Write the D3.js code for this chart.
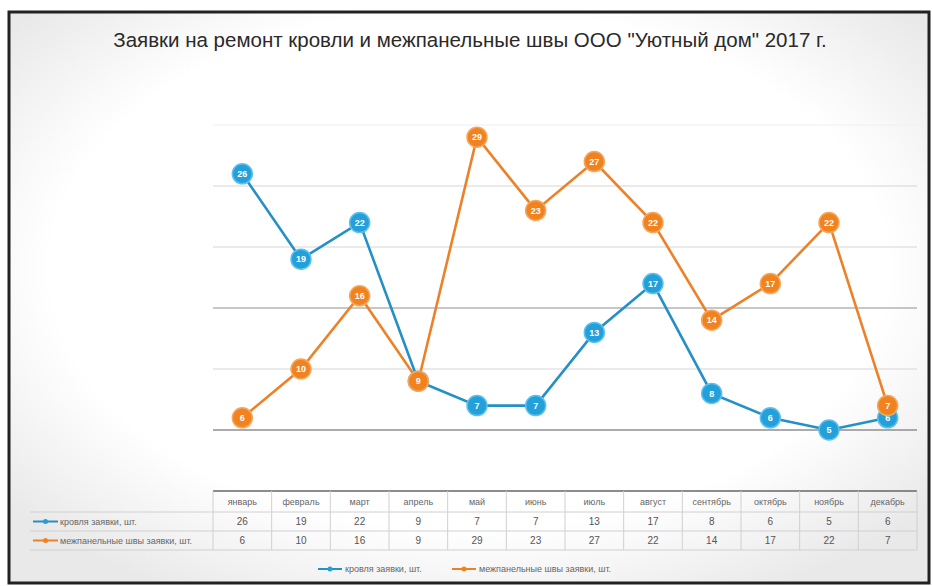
<!DOCTYPE html>
<html>
<head>
<meta charset="utf-8">
<script src="https://cdn.jsdelivr.net/npm/d3@7"></script>
<style>
  body { margin: 0; background: #fff; }
  text { font-family: "Liberation Sans", Arial, sans-serif; }
</style>
</head>
<body>
<script>
// data
var months = ["январь", "февраль", "март", "апрель", "май", "июнь", "июль", "август", "сентябрь", "октябрь", "ноябрь", "декабрь"];
var roofValues = [26, 19, 22, 9, 7, 7, 13, 17, 8, 6, 5, 6];
var seamValues = [6, 10, 16, 9, 29, 23, 27, 22, 14, 17, 22, 7];
var seriesNames = ["кровля заявки, шт.", "межпанельные швы заявки, шт."];
var yTicks = [5, 10, 15, 20, 25, 30];
var title = 'Заявки на ремонт кровли и межпанельные швы ООО "Уютный дом" 2017 г.';

var colors = ["#239fd9", "#f0821f"];
var lineColors = ["#2590c6", "#ec8128"];

var svg = d3.select('body').append('svg')
  .attr('width', 933)
  .attr('height', 586);

// soft vignette like the scan
var defs = svg.append('defs');
var grad = defs.append('radialGradient').attr('id', 'bg')
  .attr('cx', '50%').attr('cy', '45%').attr('r', '65%');
grad.append('stop').attr('offset', '70%').attr('stop-color', '#ffffff');
grad.append('stop').attr('offset', '100%').attr('stop-color', '#e9e9e9');

svg.append('rect')
  .attr('x', 9).attr('y', 12)
  .attr('width', 920).attr('height', 571)
  .attr('fill', 'url(#bg)')
  .attr('stroke', '#222')
  .attr('stroke-width', 3);

svg.append('text')
  .attr('x', 470).attr('y', 47)
  .attr('text-anchor', 'middle')
  .attr('font-size', 20.5)
  .attr('fill', '#2a2a2a')
  .text(title);

var x = d3.scaleBand().domain(months).range([213, 917]);
var y = d3.scaleLinear().domain([5, 30]).range([430, 125]);
function cx(m) { return x(m) + x.bandwidth() / 2; }

// gridlines
svg.append('g').selectAll('line')
  .data(yTicks)
  .enter().append('line')
  .attr('x1', 213).attr('x2', 917)
  .attr('y1', function(d) { return y(d); })
  .attr('y2', function(d) { return y(d); })
  .attr('stroke', function(d) { return (d === 5 || d === 15) ? '#8f8f8f' : (d === 30 ? '#f0f0f0' : '#d6d6d6'); })
  .attr('stroke-width', function(d) { return d === 5 ? 1.5 : 1.2; });

var series = [roofValues, seamValues];
var line = d3.line()
  .x(function(d, i) { return cx(months[i]); })
  .y(function(d) { return y(d); });

// draw roof first, seams on top
for (var s = 0; s < series.length; s++) {
  svg.append('path')
    .datum(series[s])
    .attr('d', line)
    .attr('fill', 'none')
    .attr('stroke', lineColors[s])
    .attr('stroke-width', 2.6);
}

for (var s2 = 0; s2 < series.length; s2++) {
  var g = svg.append('g');
  var pts = g.selectAll('g')
    .data(series[s2])
    .enter().append('g')
    .attr('transform', function(d, i) { return 'translate(' + cx(months[i]) + ',' + y(d) + ')'; });
  pts.append('circle')
    .attr('r', 10)
    .attr('fill', colors[s2])
    .attr('stroke', s2 === 0 ? '#5cc0ee' : '#f6a65c')
    .attr('stroke-width', 1.5);
  pts.append('text')
    .attr('text-anchor', 'middle')
    .attr('dy', '0.35em')
    .attr('font-size', 9)
    .attr('font-weight', 'bold')
    .attr('fill', '#fff')
    .text(function(d) { return d; });
}

// data table
var tTop = 491, hH = 21, rH = 19;
var table = svg.append('g');

// horizontal rules
table.append('line')
  .attr('x1', 213).attr('x2', 917).attr('y1', tTop).attr('y2', tTop)
  .attr('stroke', '#666').attr('stroke-width', 1.5);
[tTop + hH, tTop + hH + rH, tTop + hH + 2 * rH].forEach(function(yy) {
  table.append('line')
    .attr('x1', 30).attr('x2', 917).attr('y1', yy).attr('y2', yy)
    .attr('stroke', '#d0d0d0').attr('stroke-width', 1);
});
// vertical rules
table.selectAll('line.v')
  .data(months.concat(['end']))
  .enter().append('line')
  .attr('class', 'v')
  .attr('x1', function(d) { return d === 'end' ? 917 : x(d); })
  .attr('x2', function(d) { return d === 'end' ? 917 : x(d); })
  .attr('y1', tTop).attr('y2', tTop + hH + 2 * rH)
  .attr('stroke', '#d0d0d0');

table.selectAll('text.h')
  .data(months)
  .enter().append('text')
  .attr('class', 'h')
  .attr('x', function(d) { return cx(d); })
  .attr('y', tTop + hH / 2)
  .attr('dy', '0.35em')
  .attr('text-anchor', 'middle')
  .attr('font-size', 9)
  .attr('fill', '#666')
  .text(function(d) { return d; });

for (var r = 0; r < series.length; r++) {
  var ry = tTop + hH + rH * r + rH / 2;
  table.selectAll('text.r' + r)
    .data(series[r])
    .enter().append('text')
    .attr('x', function(d, i) { return cx(months[i]); })
    .attr('y', ry)
    .attr('dy', '0.35em')
    .attr('text-anchor', 'middle')
    .attr('font-size', 10)
    .attr('fill', '#555')
    .text(function(d) { return d; });
  table.append('line')
    .attr('x1', 33).attr('x2', 58).attr('y1', ry).attr('y2', ry)
    .attr('stroke', lineColors[r]).attr('stroke-width', 2);
  table.append('circle')
    .attr('cx', 45.5).attr('cy', ry).attr('r', 2.5)
    .attr('fill', colors[r]);
  table.append('text')
    .attr('x', 60).attr('y', ry).attr('dy', '0.35em')
    .attr('font-size', 9)
    .attr('fill', '#666')
    .text(seriesNames[r]);
}

// legend
var legX = [318, 452];
for (var l = 0; l < seriesNames.length; l++) {
  var lg = svg.append('g').attr('transform', 'translate(' + legX[l] + ',569)');
  lg.append('line').attr('x1', 0).attr('x2', 24)
    .attr('stroke', lineColors[l]).attr('stroke-width', 2);
  lg.append('circle').attr('cx', 12).attr('r', 2.5).attr('fill', colors[l]);
  lg.append('text').attr('x', 27).attr('dy', '0.35em')
    .attr('font-size', 9).attr('fill', '#666')
    .text(seriesNames[l]);
}
</script>
</body>
</html>
